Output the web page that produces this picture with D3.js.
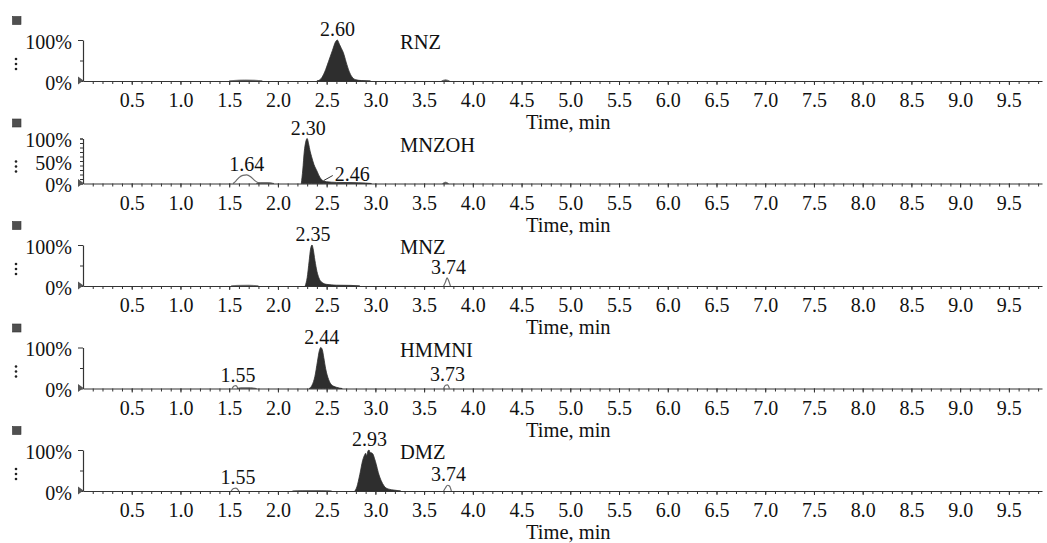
<!DOCTYPE html>
<html>
<head>
<meta charset="utf-8">
<script src="https://cdn.jsdelivr.net/npm/d3@7"></script>
<style>
  body { margin: 0; background: #fff; }
  svg text { font-family: "Liberation Serif", "Times New Roman", serif; fill: #111; }
</style>
</head>
<body>
<svg id="chart" width="1047" height="543"></svg>
<script>
// compound names, one per trace
var compounds = ["RNZ", "MNZOH", "MNZ", "HMMNI", "DMZ"];

// x axis labels (min)
var timeTicks = [0.5, 1.0, 1.5, 2.0, 2.5, 3.0, 3.5, 4.0, 4.5, 5.0, 5.5, 6.0, 6.5, 7.0, 7.5, 8.0, 8.5, 9.0, 9.5];

// main (filled) peaks, [time, relative intensity %]
var rnzPeak = [[2.40,0],[2.44,5],[2.48,22],[2.52,48],[2.56,75],[2.59,95],[2.61,100],[2.63,90],[2.65,80],[2.67,70],[2.70,46],[2.73,24],[2.76,10],[2.80,3],[2.86,1],[2.95,0]];
var mnzohPeak = [[2.24,0],[2.255,30],[2.27,70],[2.285,92],[2.30,100],[2.315,88],[2.33,72],[2.345,60],[2.37,42],[2.40,28],[2.43,14],[2.465,6],[2.50,4],[2.60,2.5],[2.75,2],[2.90,1],[2.96,0]];
var mnzPeak = [[2.28,0],[2.30,20],[2.32,60],[2.335,90],[2.35,100],[2.36,92],[2.38,62],[2.40,36],[2.42,20],[2.45,9],[2.50,4],[2.60,2],[2.75,1.5],[2.84,0]];
var hmmniPeak = [[2.32,0],[2.35,8],[2.38,30],[2.405,65],[2.425,92],[2.44,100],[2.455,95],[2.47,76],[2.49,48],[2.52,22],[2.55,9],[2.60,3],[2.66,0]];
var dmzPeak = [[2.79,0],[2.81,10],[2.84,40],[2.87,75],[2.89,88],[2.90,92],[2.91,86],[2.925,98],[2.935,100],[2.945,94],[2.96,93],[2.975,90],[2.99,80],[3.01,64],[3.03,45],[3.06,25],[3.09,12],[3.13,5],[3.20,2],[3.26,0]];

// small baseline humps (filled)
var rnzNoise = [[[1.50,0],[1.56,1.5],[1.66,2.5],[1.76,2],[1.84,0]], [[3.68,0],[3.72,3],[3.76,0]]];
var mnzohNoise = [[[1.78,0],[1.82,2],[1.90,2],[1.96,0]], [[3.69,0],[3.72,3],[3.75,0]]];
var mnzNoise = [[[1.52,0],[1.58,1.5],[1.70,2],[1.80,0]]];
var hmmniNoise = [[[1.58,0],[1.62,2],[1.72,2],[1.78,0]]];
var dmzNoise = [[[2.15,0],[2.25,1],[2.45,1],[2.55,0]]];

// other integrated peaks (outlined)
var rnzOpen = [];
var mnzohOpen = [[[1.54,0],[1.57,6],[1.60,13],[1.64,18],[1.68,19],[1.72,15],[1.76,7],[1.80,1.5],[1.82,0]]];
var mnzOpen = [[[3.70,0],[3.72,10],[3.735,20],[3.75,14],[3.77,0]]];
var hmmniOpen = [[[1.53,0],[1.55,6],[1.57,7],[1.59,0]], [[3.70,0],[3.72,8],[3.74,9],[3.76,0]]];
var dmzOpen = [[[1.52,0],[1.545,6],[1.57,7],[1.60,0]], [[3.70,0],[3.72,8],[3.74,14],[3.76,12],[3.78,0]]];

// retention time labels
var rnzLabels = [2.60];
var mnzohLabels = [2.30, 1.64, 2.46];
var mnzLabels = [2.35, 3.74];
var hmmniLabels = [2.44, 1.55, 3.73];
var dmzLabels = [2.93, 1.55, 3.74];

// y axis ticks
var yLabels = [[0, 100], [0, 50, 100], [0, 100], [0, 100], [0, 100]];

var panels = [
  { peak: rnzPeak, noise: rnzNoise, open: rnzOpen, labels: rnzLabels },
  { peak: mnzohPeak, noise: mnzohNoise, open: mnzohOpen, labels: mnzohLabels },
  { peak: mnzPeak, noise: mnzNoise, open: mnzOpen, labels: mnzLabels },
  { peak: hmmniPeak, noise: hmmniNoise, open: hmmniOpen, labels: hmmniLabels },
  { peak: dmzPeak, noise: dmzNoise, open: dmzOpen, labels: dmzLabels }
];

var svg = d3.select("#chart");
var x = d3.scaleLinear().domain([0, 9.84]).range([83, 1042]);
var fmt = d3.format(".1f");
var fmt2 = d3.format(".2f");
var serif = "'Liberation Serif', 'Times New Roman', serif";

panels.forEach(function(p, i) {
  var base = 81 + i * 102.5;
  var h = i === 1 ? 45 : 41;
  var y = d3.scaleLinear().domain([0, 100]).range([base, base - h]);
  var g = svg.append("g").attr("class", "panel");

  var area = d3.area()
    .x(function(d) { return x(d[0]); })
    .y0(base)
    .y1(function(d) { return y(d[1]); })
    .curve(d3.curveMonotoneX);
  var line = d3.line()
    .x(function(d) { return x(d[0]); })
    .y(function(d) { return y(d[1]); })
    .curve(d3.curveMonotoneX);

  // outlined peaks
  g.selectAll(".open").data(p.open).enter().append("path")
    .attr("d", line)
    .attr("fill", "none")
    .attr("stroke", "#6a6a6a")
    .attr("stroke-width", 1.2);

  // baseline humps
  g.selectAll(".noise").data(p.noise).enter().append("path")
    .attr("d", area)
    .attr("fill", "#444")
    .attr("stroke", "#666")
    .attr("stroke-width", 0.8);

  // main peak
  g.append("path").datum(p.peak)
    .attr("d", area)
    .attr("fill", "#2e2e2e")
    .attr("stroke", "#2e2e2e")
    .attr("stroke-width", 0.8);

  // x axis: minor ticks then labelled ticks
  g.append("g")
    .attr("transform", "translate(0," + base + ")")
    .call(d3.axisBottom(x).tickValues(d3.range(1, 99).map(function(k) { return k / 10; }))
      .tickSize(3).tickSizeOuter(0).tickFormat(""))
    .call(function(a) {
      a.select(".domain").attr("stroke", "#333").attr("stroke-width", 1.2);
      a.selectAll(".tick line").attr("stroke", "#333");
    });
  g.append("g")
    .attr("transform", "translate(0," + base + ")")
    .call(d3.axisBottom(x).tickValues(timeTicks).tickSize(4).tickPadding(8).tickFormat(fmt))
    .call(function(a) {
      a.select(".domain").remove();
      a.selectAll(".tick line").attr("stroke", "#333");
      a.selectAll("text").attr("font-size", "20px").attr("fill", "#111")
        .style("font-family", serif);
    });

  g.append("text")
    .attr("x", x(5.0) - 2)
    .attr("y", base + 48)
    .attr("text-anchor", "middle")
    .attr("font-size", "20.5px")
    .text("Time, min");

  // y axis
  var yMinor = i === 1 ? d3.range(0, 101, 10) : [50];
  g.append("g")
    .attr("transform", "translate(" + x(0) + ",0)")
    .call(d3.axisLeft(y).tickValues(yMinor).tickSize(3).tickSizeOuter(0).tickFormat(""))
    .call(function(a) {
      a.select(".domain").attr("stroke", "#333").attr("stroke-width", 1.2);
      a.selectAll(".tick line").attr("stroke", "#333");
    });
  g.append("g")
    .attr("transform", "translate(" + x(0) + ",0)")
    .call(d3.axisLeft(y).tickValues(yLabels[i]).tickSize(i === 1 ? 3 : 5).tickPadding(i === 1 ? 8 : 6)
      .tickFormat(function(d) { return d + "%"; }))
    .call(function(a) {
      a.select(".domain").remove();
      a.selectAll(".tick line").attr("stroke", "#333");
      a.selectAll("text").attr("font-size", "20px").attr("dy", "0.42em").attr("fill", "#111")
        .style("font-family", serif);
    });

  // left-edge markers: square, dots, baseline triangle
  g.append("rect")
    .attr("x", 12.5).attr("y", base - 64.5).attr("width", 8.5).attr("height", 8)
    .attr("fill", "#505050").attr("stroke", "#333").attr("stroke-width", 0.6);
  g.selectAll(".dot").data([0, 1, 2]).enter().append("circle")
    .attr("cx", 16).attr("cy", function(d) { return base - 22 + d * 5; })
    .attr("r", 1.3).attr("fill", "#222");
  g.append("path")
    .attr("d", "M" + (x(0) - 5) + "," + (base - 4.5) + "L" + (x(0) + 0.5) + "," + (base - 0.5) + "L" + (x(0) - 5) + "," + (base + 3.5) + "Z")
    .attr("fill", "#555");

  // compound name
  g.append("text")
    .attr("x", 400)
    .attr("y", base - 32)
    .attr("font-size", "20.5px")
    .text(compounds[i]);

  // retention time labels
  var all = [p.peak].concat(p.open).concat(p.noise);
  p.labels.forEach(function(rt) {
    var top = 0;
    all.forEach(function(s) {
      s.forEach(function(d) { if (Math.abs(d[0] - rt) <= 0.05 && d[1] > top) top = d[1]; });
    });
    if (i === 1 && rt === 2.46) {
      // label pulled off to the right with a leader line
      g.append("line")
        .attr("x1", x(rt) + 1).attr("y1", base - 3)
        .attr("x2", x(rt) + 10).attr("y2", base - 8)
        .attr("stroke", "#333").attr("stroke-width", 1);
      g.append("text")
        .attr("x", x(rt) + 12).attr("y", base - 3)
        .attr("font-size", "20px")
        .text(fmt2(rt));
      return;
    }
    g.append("text")
      .attr("x", x(rt) + (top < 20 && rt < 2 ? 4 : 1))
      .attr("y", y(top) - 4)
      .attr("text-anchor", "middle")
      .attr("font-size", "20px")
      .text(fmt2(rt));
  });
});
</script>
</body>
</html>
